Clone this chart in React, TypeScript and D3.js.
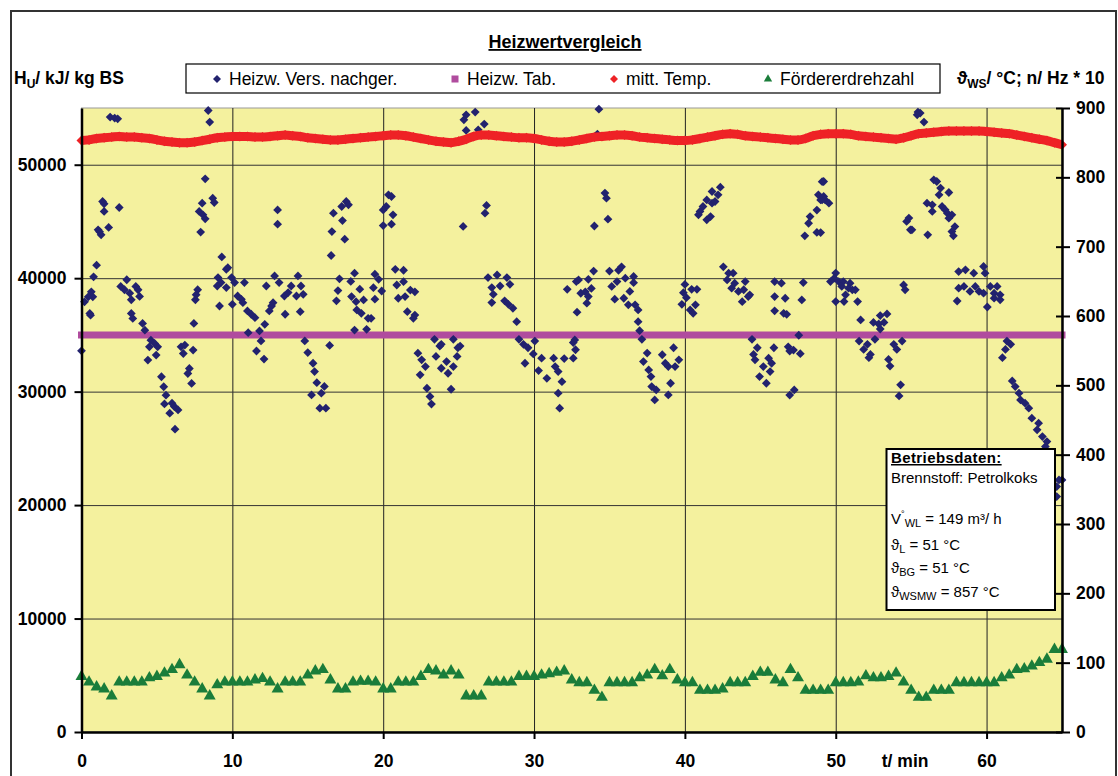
import React, { useEffect, useRef } from 'react';
import * as d3 from 'd3';

// sample times for the two continuous series (min)
const sampleTimes = d3.range(0, 65.5, 0.5);

// mitt. Temp. (°C), right axis
const tempValues = [
  853, 854, 856, 857, 858, 859, 858, 858, 857, 856,
  854, 852, 851, 850, 850, 851, 853, 855, 857, 858,
  859, 859, 859, 858, 858, 859, 860, 861, 860, 859,
  857, 856, 855, 854, 854, 855, 856, 857, 858, 859,
  860, 861, 861, 860, 858, 856, 854, 852, 851, 850,
  852, 855, 859, 861, 861, 860, 859, 858, 857, 857,
  856, 854, 852, 851, 851, 852, 854, 856, 858, 859,
  860, 861, 861, 860, 858, 857, 856, 855, 854, 853,
  853, 854, 856, 858, 860, 862, 863, 862, 860, 859,
  858, 857, 856, 855, 854, 854, 856, 860, 862, 863,
  863, 863, 862, 860, 859, 858, 857, 856, 855, 857,
  860, 863, 864, 865, 866, 867, 867, 867, 867, 867,
  866, 865, 864, 863, 861, 859, 857, 855, 853, 850,
  847,
];

// Fördererdrehzahl (Hz * 10), right axis
const speedValues = [
  80, 72, 65, 62, 52, 72, 72, 72, 72, 78,
  80, 85, 90, 97, 82, 72, 62, 52, 68, 72,
  72, 72, 72, 75, 77, 72, 62, 72, 72, 72,
  82, 88, 90, 75, 62, 62, 72, 73, 73, 72,
  62, 62, 72, 72, 72, 80, 90, 88, 82, 88,
  82, 52, 52, 52, 72, 72, 72, 72, 80, 80,
  80, 82, 84, 86, 88, 75, 71, 71, 60, 50,
  71, 71, 71, 71, 78, 82, 90, 81, 90, 75,
  71, 71, 60, 60, 60, 62, 71, 71, 71, 80,
  86, 86, 75, 71, 90, 78, 60, 60, 60, 60,
  71, 71, 71, 72, 81, 78, 78, 80, 85, 72,
  60, 50, 50, 60, 60, 60, 71, 71, 71, 71,
  71, 71, 78, 82, 90, 91, 95, 100, 105, 119,
  119,
];

// Heizw. Tab. (kJ/kg), constant
const heizwTab = 35000;

// Heizw. Vers. nachger. [t (min), kJ/kg]
const heizwVers: [number, number][] = [
  [1.9, 54200], [2.2, 54110], [2.4, 54050], [8.4, 54780], [8.5, 53760], [8.2, 48760], [8.0, 46610], [7.8, 45880], [8.05, 45580], [8.2, 45230], [7.9, 44060], [8.7, 47050], [8.8, 46670],
  [1.4, 46760], [1.5, 46550], [1.5, 45880], [2.5, 46230], [1.8, 44470], [1.1, 44260], [1.3, 43820], [1.2, 44100], [1.0, 41150], [0.8, 40120], [0.65, 38800], [0.75, 38360], [0.45, 38360], [0.2, 37920], [0.55, 36890], [0.6, 36740], [0, 33600],
  [2.6, 39270], [3.0, 39860], [2.85, 38980], [3.2, 38680], [3.3, 38100], [3.6, 39270], [3.75, 38980], [3.85, 38390], [3.3, 36890], [3.4, 36450], [4.05, 36010], [4.2, 35420], [4.6, 34540], [4.85, 34250], [4.5, 33950], [5.05, 33950], [4.95, 33220], [4.4, 32780], [5.3, 31310], [5.45, 30430], [5.6, 29690], [5.5, 28920], [6.0, 28980], [6.15, 28690], [6.4, 28390], [5.85, 28100], [6.2, 26690],
  [6.6, 33950], [6.85, 34100], [6.75, 33360], [7.4, 33660], [7.15, 32040], [7.05, 31600], [7.3, 30720], [7.45, 36010], [7.55, 38100], [7.7, 38980], [7.6, 38540],
  [9.3, 41870], [9.6, 40780], [9.7, 40930], [9.05, 40050], [9.25, 39610], [9.0, 39310], [9.6, 39170], [9.95, 40050], [10.15, 39610], [9.15, 37550], [10.0, 37700], [10.35, 38430], [10.6, 38140], [10.8, 39610], [10.7, 37840], [11.0, 37110], [11.25, 36820], [11.5, 36520], [12.15, 35930], [11.8, 35350], [11.05, 35200], [11.9, 34470], [11.6, 33580], [12.1, 32870],
  [12.25, 39310], [12.8, 40200], [13.1, 39610], [12.6, 37550], [12.45, 37110], [12.7, 37840], [13.0, 46020], [13.0, 44760], [13.5, 36820], [13.45, 38430], [13.7, 38730], [13.9, 39310], [14.35, 40200], [14.55, 39310], [14.25, 38430], [14.7, 38580], [14.5, 37050],
  [14.8, 34470], [15.0, 33440], [15.35, 32500], [15.45, 31770], [15.6, 30790], [15.25, 29710], [15.9, 29860], [16.1, 30460], [15.8, 28540], [16.2, 28540],
  [25.5, 54400], [26.1, 54640], [25.35, 53960], [26.7, 53580], [25.5, 53020], [26.3, 53080],
  [16.7, 45730], [17.25, 46320], [17.55, 46760], [17.7, 46470], [17.3, 45080], [16.6, 44110], [17.45, 43440], [16.55, 42000],
  [20.35, 47350], [20.55, 47200], [20.2, 46320], [20.0, 46020], [20.65, 45580], [20.0, 44640], [20.55, 44760],
  [26.85, 46410], [26.75, 45730], [25.3, 44560],
  [17.1, 39940], [18.1, 40440], [17.85, 39710], [17.0, 38910], [16.9, 38000], [18.45, 39030], [17.9, 38380], [18.2, 37930], [18.7, 38080], [18.25, 37200], [18.55, 36900], [19.0, 36460], [19.2, 36460], [19.45, 40350], [19.7, 39900], [19.35, 39160], [19.45, 38150], [19.9, 38870], [18.1, 35430], [18.9, 35490], [16.45, 34070],
  [20.8, 40780], [21.35, 40700], [20.9, 39400], [21.35, 39690], [21.0, 38230], [21.45, 38380], [21.8, 38950], [22.1, 38800], [21.6, 37050], [22.1, 36750], [22.0, 36460],
  [22.3, 33390], [22.55, 32800], [22.8, 32210], [22.45, 31480], [22.9, 30300], [23.1, 29570], [23.2, 28900], [23.4, 34610], [23.75, 34020], [23.85, 34170], [23.5, 33100], [24.2, 32650], [23.85, 32060], [24.3, 31620], [24.5, 30210], [24.65, 34610], [24.95, 33870], [24.9, 33100], [24.65, 32210], [25.1, 34020],
  [26.95, 40050], [27.55, 40280], [28.2, 40050], [28.4, 39460], [27.2, 39170], [27.75, 39310], [27.3, 38580], [27.2, 37850], [28.05, 38000], [28.3, 37700], [28.6, 37350], [28.85, 36170], [29.0, 34610], [29.3, 34170], [29.6, 33870], [29.4, 32500], [30.05, 34460], [29.95, 33320], [30.3, 31860], [30.5, 32950], [30.85, 31170], [31.3, 32950], [31.4, 32210], [31.6, 31770], [31.85, 30880], [31.6, 29860], [31.7, 28540], [32.0, 32910], [32.2, 39020], [32.6, 34320],
  [34.3, 54900], [34.2, 52700], [34.7, 47500], [34.8, 47050], [34.9, 45200], [34.0, 44600],
  [32.8, 39700], [32.95, 39850], [33.6, 39900], [33.95, 40630], [33.1, 38670], [33.4, 38800], [33.8, 39100], [33.6, 38380], [33.5, 37800], [32.85, 37000], [35.0, 40630], [35.6, 40700], [35.8, 41000], [35.5, 39700], [35.15, 39270],
  [36.05, 40000], [36.6, 40150], [36.6, 39600], [36.35, 38830], [35.95, 38230], [35.35, 38150], [36.25, 37650], [36.7, 37650], [36.9, 37200], [36.9, 36170], [37.0, 35370], [37.15, 34610],
  [32.7, 34560], [32.75, 33690], [32.6, 32950],
  [37.5, 33400], [37.25, 32650], [37.6, 31910], [37.75, 31330], [37.8, 30450], [38.1, 30150], [38.0, 29270], [38.5, 33250], [38.7, 32500], [38.9, 32210], [39.25, 33870], [39.6, 32800], [39.35, 32210], [39.05, 30740], [38.9, 29710],
  [40.0, 39450], [39.9, 38720], [39.8, 37700], [40.1, 38280], [40.45, 39020], [40.8, 39020], [40.35, 37200], [40.55, 36900], [40.7, 37650],
  [41.0, 45880], [40.9, 45580], [41.2, 46320], [41.45, 46900], [41.8, 47640], [42.35, 48020], [42.2, 47350], [41.8, 46610], [41.45, 45140], [41.7, 45430], [42.0, 46760],
  [42.55, 41000], [42.9, 40440], [43.2, 40440], [42.8, 39850], [43.3, 39560], [43.1, 39120], [43.55, 38830], [44.0, 39700], [43.9, 38980], [44.3, 38530], [43.8, 37930], [44.2, 38380],
  [44.45, 34610], [44.8, 33870], [44.55, 33280], [44.65, 32800], [45.9, 33870], [45.55, 32950], [45.75, 32500], [45.2, 32210], [45.65, 31770], [44.95, 31330], [45.4, 30740], [45.95, 39700], [46.4, 39560], [45.95, 38380], [46.65, 38230], [45.95, 37120], [46.55, 36900], [46.75, 36810], [46.85, 33950], [47.2, 33660], [46.95, 33580], [47.65, 33350], [47.55, 34970], [46.95, 29700], [47.25, 30150], [47.85, 39610], [47.75, 38080], [47.95, 43730], [48.75, 44030], [48.3, 45430], [48.2, 44840], [48.75, 46000], [48.85, 47350], [49.1, 46900], [49.1, 48510],
  [55.45, 54640], [55.6, 54550], [55.4, 54400], [55.85, 53760],
  [49.2, 48520], [49.2, 47200], [49.3, 46900], [49.55, 46610], [49.0, 46900], [49.0, 44020],
  [54.85, 45300], [54.7, 45000], [54.95, 44260], [55.05, 44260], [56.1, 43820],
  [56.5, 48670], [56.7, 48520], [56.95, 47940], [56.85, 47350], [57.5, 47550], [56.05, 46610], [56.4, 46470], [57.05, 46320], [57.25, 46030], [56.4, 45880], [57.4, 45730], [57.7, 45580], [57.5, 45290], [57.9, 44550], [57.7, 44110], [57.8, 43730],
  [50.0, 40450], [49.9, 40000], [49.65, 39700], [50.2, 39700], [50.5, 39700], [50.95, 39560], [50.4, 39270], [50.85, 39120], [51.1, 38970], [51.3, 38970], [50.65, 38530], [50.0, 37940], [50.55, 37940], [51.45, 37940], [54.5, 39410], [54.6, 38970],
  [51.65, 36320], [52.95, 36700], [53.4, 36850], [52.5, 36100], [52.85, 35960], [53.2, 36100], [52.95, 35520], [51.55, 34460], [52.1, 34170], [51.85, 33720], [52.3, 33280], [52.2, 32990], [52.6, 34610], [53.85, 34170], [54.05, 33720], [54.4, 34460], [53.5, 32840], [53.6, 32250], [54.3, 30600], [54.2, 29620],
  [58.15, 40580], [58.6, 40740], [59.15, 40440], [59.8, 41030], [59.9, 40440], [58.15, 39120], [58.5, 39270], [58.9, 38830], [59.25, 39270], [59.5, 38830], [59.8, 38680], [60.25, 39270], [60.7, 39270], [60.5, 38680], [60.9, 38530], [60.9, 38090], [58.05, 37990], [60.05, 37460], [60.5, 38240],
  [61.35, 34460], [61.6, 34170], [61.25, 33720], [61.05, 32990], [61.7, 30940], [61.9, 30450], [62.15, 29860], [62.25, 29270], [62.55, 28980], [62.8, 28540], [63.0, 27660], [63.45, 27220], [63.35, 26630], [63.7, 26040], [64.0, 25600], [63.9, 25160], [64.8, 22220], [64.65, 21630], [65.0, 22220], [64.65, 20750],
];

const leftTicks = [0, 10000, 20000, 30000, 40000, 50000];
const rightTicks = [0, 100, 200, 300, 400, 500, 600, 700, 800, 900];
const timeTicks = [0, 10, 20, 30, 40, 50, 60];

const seriesNames = ['Heizw. Vers. nachger.', 'Heizw. Tab.', 'mitt. Temp.', 'Fördererdrehzahl'];
const colors = { vers: '#22226e', tab: '#b04c9e', temp: '#ee2226', speed: '#1a7d3a' };

const FONT = "'Liberation Sans', Arial, sans-serif";

const diamond = (r: number) => `M0,${-r}L${r},0L0,${r}L${-r},0Z`;

const App = () => {
  const svgRef = useRef<SVGSVGElement>(null);

  useEffect(() => {
    if (!svgRef.current) return;
    const svg = d3.select(svgRef.current);
    svg.selectAll('*').remove();

    const width = 1118;
    const height = 776;
    const plot = { left: 81.5, right: 1062, top: 108, bottom: 732 };

    const x = d3.scaleLinear().domain([0, 65]).range([plot.left, plot.right]);
    const yL = d3.scaleLinear().domain([0, 55000]).range([plot.bottom, plot.top]);
    const yR = d3.scaleLinear().domain([0, 900]).range([plot.bottom, plot.top]);

    svg.append('rect').attr('width', width).attr('height', height).attr('fill', '#fff');
    // outer chart border
    svg.append('rect').attr('x', 11).attr('y', 11).attr('width', 1105).attr('height', 800)
      .attr('fill', 'none').attr('stroke', '#333').attr('stroke-width', 2);

    // plot background
    svg.append('rect')
      .attr('x', plot.left).attr('y', plot.top)
      .attr('width', plot.right - plot.left).attr('height', plot.bottom - plot.top)
      .attr('fill', '#f4f19e').attr('stroke', '#9a9a9a').attr('stroke-width', 1);

    // grid
    svg.append('g')
      .attr('transform', `translate(0,${plot.bottom})`)
      .call(d3.axisBottom(x).tickValues(timeTicks.slice(1)).tickSize(-(plot.bottom - plot.top)).tickFormat(() => ''))
      .call(g => g.select('.domain').remove())
      .selectAll('line').attr('stroke', '#222').attr('stroke-width', 1);
    svg.append('g')
      .attr('transform', `translate(${plot.left},0)`)
      .call(d3.axisLeft(yL).tickValues(leftTicks.slice(1)).tickSize(-(plot.right - plot.left)).tickFormat(() => ''))
      .call(g => g.select('.domain').remove())
      .selectAll('line').attr('stroke', '#333').attr('stroke-width', 1);

    // Heizw. Tab. line
    svg.append('path')
      .datum([0, 65])
      .attr('d', d3.line<number>().x(d => x(d)).y(() => yL(heizwTab)))
      .attr('stroke', colors.tab).attr('stroke-width', 7).attr('stroke-linecap', 'square').attr('fill', 'none');

    // measured heating values
    svg.append('g').selectAll('path')
      .data(heizwVers)
      .join('path')
      .attr('d', diamond(4.4))
      .attr('transform', d => `translate(${x(d[0])},${yL(d[1])})`)
      .attr('fill', colors.vers);

    // temperature band
    const tempPts = sampleTimes.map((t, i) => [t, tempValues[i]] as [number, number]);
    svg.append('path')
      .datum(tempPts)
      .attr('d', d3.line<[number, number]>().x(d => x(d[0])).y(d => yR(d[1])).curve(d3.curveMonotoneX))
      .attr('stroke', colors.temp).attr('stroke-width', 9).attr('fill', 'none');
    svg.append('g').selectAll('path')
      .data(tempPts)
      .join('path')
      .attr('d', diamond(5))
      .attr('transform', d => `translate(${x(d[0])},${yR(d[1])})`)
      .attr('fill', colors.temp);

    // conveyor speed
    const tri = d3.symbol(d3.symbolTriangle, 62)();
    svg.append('g').selectAll('path')
      .data(sampleTimes.map((t, i) => [t, speedValues[i]] as [number, number]))
      .join('path')
      .attr('d', tri)
      .attr('transform', d => `translate(${x(d[0])},${yR(d[1])})`)
      .attr('fill', colors.speed);

    const tickText = (g: d3.Selection<SVGGElement, unknown, null, undefined>) => {
      g.selectAll('text').attr('font-family', FONT).attr('font-size', 17.5).attr('font-weight', 'bold').attr('fill', '#000');
      g.selectAll('line').attr('stroke', '#000').attr('stroke-width', 2);
      g.select('.domain').attr('stroke', '#000').attr('stroke-width', 2.5);
    };

    // axes
    const gl = svg.append('g').attr('transform', `translate(${plot.left},0)`)
      .call(d3.axisLeft(yL).tickValues(leftTicks).tickSize(7).tickSizeOuter(0).tickPadding(8).tickFormat(d3.format('d')));
    tickText(gl);

    const gr = svg.append('g').attr('transform', `translate(${plot.right},0)`)
      .call(d3.axisRight(yR).tickValues(rightTicks).tickSize(8).tickSizeOuter(0).tickPadding(6).tickFormat(d3.format('d')));
    tickText(gr);
    gr.selectAll('.tick line').attr('x1', -6);

    const gb = svg.append('g').attr('transform', `translate(0,${plot.bottom})`)
      .call(d3.axisBottom(x).tickValues(timeTicks).tickSize(7).tickSizeOuter(0).tickPadding(16).tickFormat(d3.format('d')));
    tickText(gb);

    const txt = (xx: number, yy: number, size: number, bold = false) =>
      svg.append('text').attr('x', xx).attr('y', yy)
        .attr('font-family', FONT).attr('font-size', size)
        .attr('font-weight', bold ? 'bold' : 'normal').attr('fill', '#000');

    txt(x(54.6), 767, 17.5, true).attr('text-anchor', 'middle').text('t/ min');

    // title
    txt(565, 48, 18, true).attr('text-anchor', 'middle')
      .style('text-decoration', 'underline').text('Heizwertvergleich');

    // axis titles
    const lt = txt(14, 84, 17.5, true);
    lt.append('tspan').text('H');
    lt.append('tspan').attr('font-size', 12).attr('dy', 4).text('U');
    lt.append('tspan').attr('dy', -4).text('/ kJ/ kg BS');

    const rt = txt(957, 84, 17.5, true);
    rt.append('tspan').text('ϑ');
    rt.append('tspan').attr('font-size', 12).attr('dy', 4).text('WS');
    rt.append('tspan').attr('dy', -4).text('/ °C; n/ Hz * 10');

    // legend
    svg.append('rect').attr('x', 186).attr('y', 64).attr('width', 754).attr('height', 29)
      .attr('fill', '#fff').attr('stroke', '#000').attr('stroke-width', 1.2);
    const legX = [217, 455, 614, 768];
    const ly = 79;
    svg.append('path').attr('d', diamond(4)).attr('transform', `translate(${legX[0]},${ly})`).attr('fill', colors.vers);
    svg.append('rect').attr('x', legX[1] - 3.5).attr('y', ly - 3.5).attr('width', 7).attr('height', 7).attr('fill', colors.tab);
    svg.append('path').attr('d', diamond(4)).attr('transform', `translate(${legX[2]},${ly})`).attr('fill', colors.temp);
    svg.append('path').attr('d', d3.symbol(d3.symbolTriangle, 30)()).attr('transform', `translate(${legX[3]},${ly})`).attr('fill', colors.speed);
    seriesNames.forEach((n, i) => txt(legX[i] + 12, 85, 17.5).text(n));

    // info box
    svg.append('rect').attr('x', 886.5).attr('y', 449).attr('width', 168.5).attr('height', 161)
      .attr('fill', '#fff').attr('stroke', '#000').attr('stroke-width', 2);
    const bx = 891;
    txt(bx, 463, 15, true).attr('letter-spacing', 0.4).style('text-decoration', 'underline').text('Betriebsdaten:');
    txt(bx, 483, 15).text('Brennstoff: Petrolkoks');
    const v = txt(bx, 524, 15);
    v.append('tspan').text('V');
    v.append('tspan').attr('font-size', 9).attr('dy', -7).text('°');
    v.append('tspan').attr('font-size', 11).attr('dy', 10).text('WL');
    v.append('tspan').attr('dy', -3).text(' = 149 m³/ h');
    const thetaLine = (yy: number, sub: string, rest: string) => {
      const t = txt(bx, yy, 15);
      t.append('tspan').text('ϑ');
      t.append('tspan').attr('font-size', 11).attr('dy', 3).text(sub);
      t.append('tspan').attr('dy', -3).text(rest);
    };
    thetaLine(550, 'L', ' = 51 °C');
    thetaLine(573, 'BG', ' = 51 °C');
    thetaLine(597, 'WSMW', ' = 857 °C');
  }, []);

  return (
    <div style={{ position: 'absolute', left: 0, top: 0 }}>
      <svg ref={svgRef} width={1118} height={776} style={{ display: 'block' }} />
    </div>
  );
};

export default App;
